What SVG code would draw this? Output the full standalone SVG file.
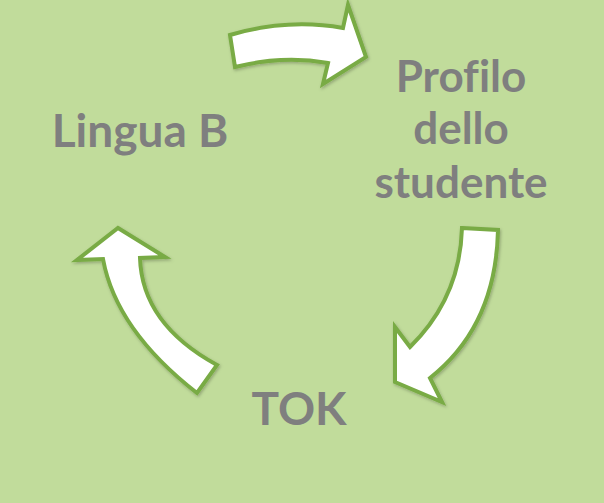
<svg xmlns="http://www.w3.org/2000/svg" width="604" height="503" viewBox="0 0 604 503">
<defs>
<filter id="sh" x="-20%" y="-20%" width="140%" height="140%">
<feDropShadow dx="1" dy="1.5" stdDeviation="1.5" flood-color="#000" flood-opacity="0.25"/>
</filter>
</defs>
<style>
.arrow{fill:#ffffff;stroke:#79ab45;stroke-width:4;stroke-linejoin:miter;filter:url(#sh)}
.lbl{font-family:Lato,"Open Sans",sans-serif;font-weight:bold;fill:#7f7f7f;text-anchor:middle;font-variant-ligatures:none;font-feature-settings:"liga" 0}
</style>
<rect x="0" y="0" width="604" height="503" fill="#c1dc9b"/>
<g id="connectors">
<path class="arrow" d="M230,35 Q288,18 343,28 L348,5 L366,57 L323,84 L328,63 Q283,55 235,67 Z"/>
<path class="arrow" d="M462,228 L498,230 Q496,326 430,378 L442,402 L395,382 L395,327 L410,347 Q460,298 462,228 Z"/>
<path class="arrow" d="M118,228 L165,257 L140,258 Q142,324 217,365 L197,393 Q116,330 103,259 L77,260 Z"/>
</g>
<g id="node-lingua">
<text class="lbl" x="140" y="147" font-size="46">Lingua B</text>
</g>
<g id="node-profilo">
<text class="lbl" x="461" y="92" font-size="44">Profilo</text>
<text class="lbl" x="461" y="144" font-size="44">dello</text>
<text class="lbl" x="461" y="198" font-size="44">studente</text>
</g>
<g id="node-tok">
<text class="lbl" x="299" y="425" font-size="46">TOK</text>
</g>
</svg>
